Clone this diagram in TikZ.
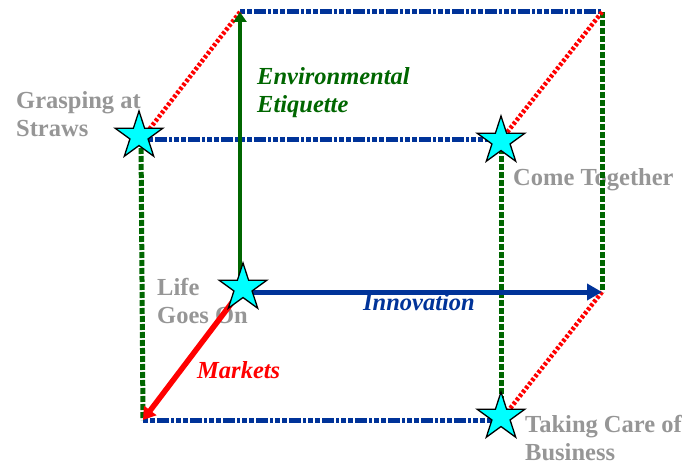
\documentclass[tikz,border=0pt]{standalone}
\usepackage{fontspec}
\setmainfont{Liberation Serif}
\usetikzlibrary{arrows.meta,shapes.geometric}
\definecolor{axisblue}{RGB}{0,51,153}
\definecolor{axisgreen}{RGB}{0,102,0}
\definecolor{axisred}{RGB}{255,0,0}
\definecolor{labelgray}{RGB}{150,150,150}
\definecolor{starfill}{RGB}{0,255,255}

\begin{document}
\begin{tikzpicture}[x=1pt,y=-1pt,
  scenario/.style={star,star points=5,star point ratio=2.618,minimum size=50pt,
    inner sep=0pt,fill=starfill,draw=black,line width=1.3pt},
  scenlabel/.style={text=labelgray,font=\fontsize{24.5}{28}\selectfont\bfseries,
    align=left,inner sep=0pt,anchor=base west},
  axislabel/.style={font=\fontsize{24.5}{28}\selectfont\bfseries\itshape,
    align=left,inner sep=0pt,anchor=base west},
  blueedge/.style={axisblue,line width=5pt,
    dash pattern=on 5pt off 2pt on 5pt off 2pt on 12pt off 2pt on 3pt off 2pt},
  greenedge/.style={axisgreen,line width=5pt,dash pattern=on 6pt off 2pt},
  rededge/.style={axisred,line width=4.5pt,dash pattern=on 3pt off 2pt},
]
\useasboundingbox (0,0) rectangle (695,465);

% cube corners
\coordinate (O)   at (240,292);
\coordinate (T)   at (240,12);
\coordinate (TR)  at (602,12);
\coordinate (R)   at (602,292);
\coordinate (FTL) at (141,140);
\coordinate (FTR) at (501,140);
\coordinate (FBL) at (143,420);
\coordinate (FBR) at (501,420);

% scenario labels (base anchor sits on the last line)
\node[scenlabel] (lgrasp) at (16,137) {Grasping at\\Straws};
\node[scenlabel] (lcome)  at (513,185) {Come Together};
\node[scenlabel] (llife)  at (157,323) {Life\\Goes On};
\node[scenlabel] (lcare)  at (525,460) {Taking Care of\\Business};

% hidden cube edges
\draw[blueedge] (T) -- (TR);
\draw[blueedge] (FTL) -- (FTR);
\draw[blueedge] (FBL) -- (FBR);
\draw[greenedge] (TR) -- (R);
\draw[greenedge] (FTL) -- (FBL);
\draw[greenedge] (FTR) -- (FBR);
\draw[rededge] (T) -- (FTL);
\draw[rededge] (TR) -- (FTR);
\draw[rededge] (R) -- (FBR);

% the three axes
\draw[axisgreen,line width=4.5pt,-{Triangle[length=10pt,width=13pt]}] (O) -- (T);
\draw[axisblue,line width=5pt,-{Triangle[length=15pt,width=16pt]}] (O) -- (R);
\draw[axisred,line width=5.5pt,-{Triangle[length=12pt,width=15pt]}] (O) -- (FBL);

% scenarios
\node[scenario] (life)  at (243,288) {};
\node[scenario] (grasp) at (139,136) {};
\node[scenario] (come)  at (501,141) {};
\node[scenario] (care)  at (501,417) {};

% axis labels
\node[axislabel,text=axisgreen] (lenv) at (257,113) {Environmental\\Etiquette};
\node[axislabel,text=axisblue]  (linn) at (363,310) {Innovation};
\node[axislabel,text=axisred]   (lmar) at (197,378) {Markets};
\end{tikzpicture}
\end{document}
